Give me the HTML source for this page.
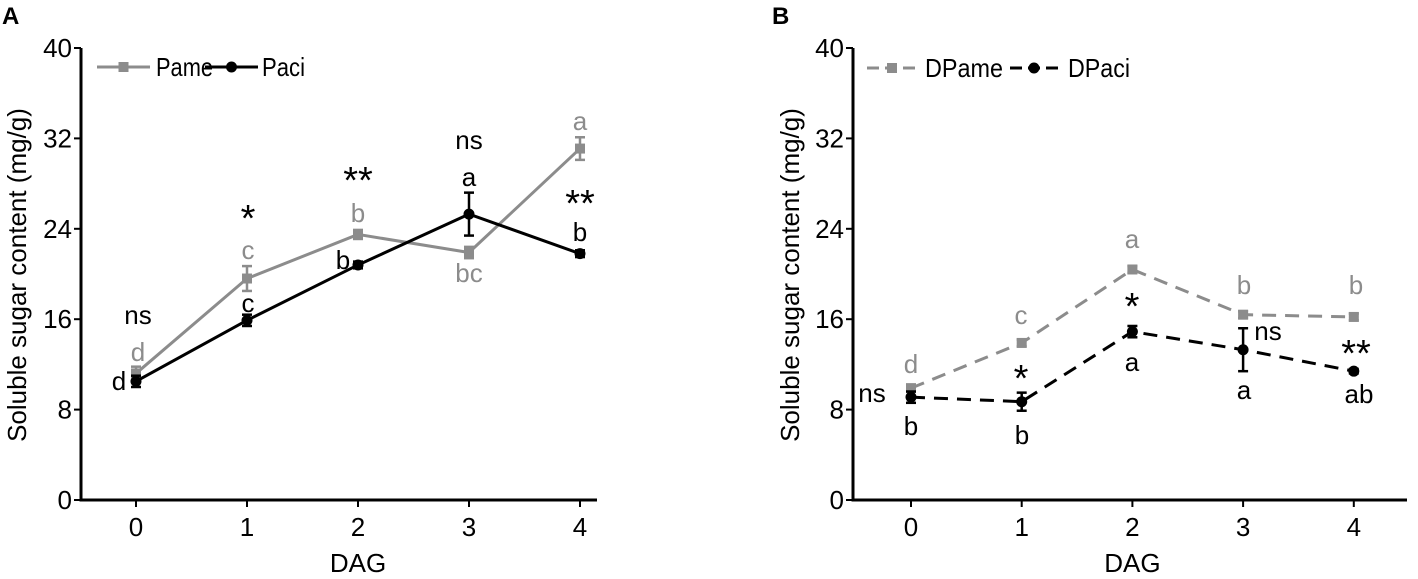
<!DOCTYPE html>
<html><head><meta charset="utf-8"><style>
html,body{margin:0;padding:0;background:#fff;}
svg{display:block;font-family:"Liberation Sans",Arial,sans-serif;}
</style></head><body>
<svg id="chart" width="1418" height="579" viewBox="0 0 1418 579">
<text x="2" y="24" font-size="24" font-weight="bold">A</text>
<text x="772" y="24" font-size="24" font-weight="bold">B</text>
</svg>
<script>
const days = [0,1,2,3,4];
const yTicks = [0,8,16,24,32,40];
const pame = [11.2,19.6,23.5,21.9,31.1];
const pameErr = [0.6,1.1,0.4,0.5,1.0];
const paci = [10.5,15.9,20.8,25.3,21.8];
const paciErr = [0.5,0.5,0.3,1.9,0.3];
const dpame = [9.9,13.9,20.4,16.4,16.2];
const dpameErr = [0.3,0.3,0.3,0.3,0.3];
const dpaci = [9.1,8.7,14.9,13.3,11.4];
const dpaciErr = [0.5,0.8,0.5,1.9,0.2];

const NS='http://www.w3.org/2000/svg';
const svg=document.getElementById('chart');
function el(tag,attrs,parent){const e=document.createElementNS(NS,tag);for(const k in attrs)e.setAttribute(k,attrs[k]);(parent||svg).appendChild(e);return e;}
function txt(x,y,s,size,fill,anchor,parent){const t=el('text',{x:x,y:y,'font-size':size,fill:fill,'text-anchor':anchor||'middle','dominant-baseline':'central'},parent);t.textContent=s;return t;}

function panel(p){
  const g=el('g',{});
  
  
  const yS=v=>500-v*(452/40);
  const xS=i=>p.x0+i*p.dx;
  const ax=el('line',{x1:p.ax,y1:yS(40),x2:p.ax,y2:500,stroke:'#000','stroke-width':3},g);
  
  
  const bx=el('line',{x1:p.ax-1.5,y1:500,x2:p.xEnd,y2:500,stroke:'#000','stroke-width':3},g);
  
  
  yTicks.forEach(v=>{
    el('line',{x1:p.ax-7,y1:yS(v),x2:p.ax,y2:yS(v),stroke:'#000','stroke-width':2},g);
    const t=txt(p.ax-9,yS(v),String(v),26,'#000','end',g);
    
    
  });
  days.forEach((d,i)=>{
    el('line',{x1:xS(i),y1:500,x2:xS(i),y2:507,stroke:'#000','stroke-width':2},g);
    const t=txt(xS(i),527,String(d),26,'#000','middle',g);
    
    
  });
  const yt=txt(0,0,'Soluble sugar content (mg/g)',26,'#000','middle',g);
  yt.setAttribute('transform','translate('+p.ytx+',275) rotate(-90)');
  
  
  const xt=txt(xS(2),563,'DAG',26,'#000','middle',g);
  
  
  p.series.forEach(s=>{
    const pts=s.vals.map((v,i)=>xS(i)+','+yS(v)).join(' ');
    const pl=el('polyline',{points:pts,fill:'none',stroke:s.color,'stroke-width':3,'stroke-dasharray':s.dash||'none'},g);
    
    
    s.vals.forEach((v,i)=>{
      const e=s.err[i],x=xS(i);
      el('line',{x1:x,y1:yS(v+e),x2:x,y2:yS(v-e),stroke:s.color,'stroke-width':2.5},g);
      el('line',{x1:x-5,y1:yS(v+e),x2:x+5,y2:yS(v+e),stroke:s.color,'stroke-width':2.5},g);
      el('line',{x1:x-5,y1:yS(v-e),x2:x+5,y2:yS(v-e),stroke:s.color,'stroke-width':2.5},g);
      let m;
      if(s.sq) m=el('rect',{x:x-5,y:yS(v)-5,width:10,height:10,fill:s.color},g);
      else m=el('circle',{cx:x,cy:yS(v),r:5.5,fill:s.color},g);
      
      
    });
  });
  p.legend.forEach(l=>{
    const lg=el('g',{},g);
    
    
    el('line',{x1:l.x1,y1:l.y,x2:l.x2,y2:l.y,stroke:l.color,'stroke-width':3,'stroke-dasharray':l.dash||'none'},lg);
    const mx=(l.x1+l.x2)/2;
    if(l.sq) el('rect',{x:mx-5,y:l.y-5,width:10,height:10,fill:l.color},lg);
    else el('circle',{cx:mx,cy:l.y,r:5.5,fill:l.color},lg);
    const t=txt(l.tx,l.y,l.label,26,'#000','start',lg);
    t.setAttribute('textLength',l.tw);
    t.setAttribute('lengthAdjust','spacingAndGlyphs');
  });
  p.ann.forEach(a=>{
    const star=a[2].indexOf('*')>=0;
    const t=txt(a[0],a[1],a[2],star?38:26,a[3],a[4]||'middle',g);
    if(star){t.setAttribute('y',a[1]+9);}
    
    
  });
}
const G='#8c8c8c',K='#000';
panel({name:'panel-a',ax:81,x0:136,dx:111,xEnd:597,ytx:17,
  series:[{key:'pame',vals:pame,err:pameErr,color:G,sq:true},{key:'paci',vals:paci,err:paciErr,color:K}],
  legend:[{x1:97,x2:150,y:67,color:G,sq:true,tx:156,tw:57,label:'Pame'},{x1:205,x2:258,y:67,color:K,tx:262,tw:43,label:'Paci'}],
  ann:[[138,315,'ns',K],[138,352,'d',G],[119,381,'d',K],[248,210,'*',K],[248,250,'c',G],[248,303,'c',K],[358,172,'**',K],[358,213,'b',G],[343,260,'b',K],[469,140,'ns',K],[469,177,'a',K],[469,273,'bc',G],[580,121,'a',G],[580,195,'**',K],[580,232,'b',K]]});
panel({name:'panel-b',ax:853,x0:911,dx:110.7,xEnd:1407,ytx:790,
  series:[{key:'dpame',vals:dpame,err:dpameErr,color:G,sq:true,dash:'14 9'},{key:'dpaci',vals:dpaci,err:dpaciErr,color:K,dash:'14 9'}],
  legend:[{x1:867,x2:917,y:68,color:G,sq:true,dash:'12 6',tx:925,tw:78,label:'DPame'},{x1:1010,x2:1058,y:68,color:K,dash:'12 6',tx:1068,tw:62,label:'DPaci'}],
  ann:[[911,364,'d',G],[872,393,'ns',K],[911,426,'b',K],[1021,315,'c',G],[1021,370,'*',K],[1022,435,'b',K],[1132,239,'a',G],[1132,298,'*',K],[1132,362,'a',K],[1244,285,'b',G],[1268,331,'ns',K],[1244,390,'a',K],[1356,285,'b',G],[1356,345,'**',K],[1359,394,'ab',K]]});
</script>
</body></html>
